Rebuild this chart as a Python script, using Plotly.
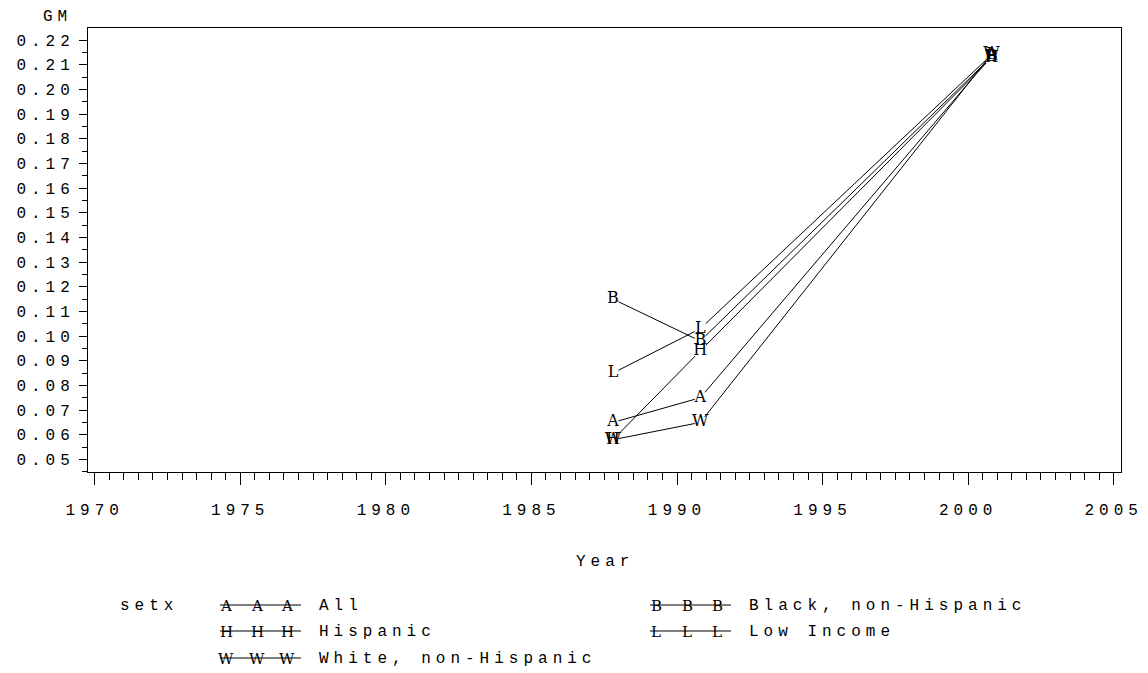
import plotly.graph_objects as go

# ---------------- data ----------------
years = [1987.8, 1990.8, 2000.8]
series_names = ["All", "Black, non-Hispanic", "Hispanic", "Low Income", "White, non-Hispanic"]
series_symbols = ["A", "B", "H", "L", "W"]
gm_all = [0.065, 0.075, 0.2135]
gm_black = [0.115, 0.098, 0.2132]
gm_hispanic = [0.058, 0.094, 0.2128]
gm_low_income = [0.085, 0.103, 0.2140]
gm_white = [0.058, 0.065, 0.2143]
series_values = [gm_all, gm_black, gm_hispanic, gm_low_income, gm_white]

y_tick_values = [0.05, 0.06, 0.07, 0.08, 0.09, 0.10, 0.11, 0.12, 0.13, 0.14,
                 0.15, 0.16, 0.17, 0.18, 0.19, 0.20, 0.21, 0.22]
y_tick_labels = ["%.2f" % v for v in y_tick_values]
x_tick_values = [1970, 1975, 1980, 1985, 1990, 1995, 2000, 2005]
x_tick_labels = [str(v) for v in x_tick_values]

x_title = "Year"
y_title = "GM"
legend_title = "setx"

# ---------------- layout geometry ----------------
FIG_W, FIG_H = 1148, 673
M_L, M_R, M_T, M_B = 88, 27, 28, 201
PLOT_W = FIG_W - M_L - M_R
PLOT_H = FIG_H - M_T - M_B

TEXT_FONT = "Liberation Mono"
SYM_FONT = "DejaVu Serif"
LS = 5  # letter spacing in px


def sp(s, ls=LS):
    return '<span style="letter-spacing:%dpx">%s</span>' % (ls, s)


def px_x(px):
    return (px - M_L) / PLOT_W


def px_y(py):
    return (M_T + PLOT_H - py) / PLOT_H


fig = go.Figure()

# lines
for vals in series_values:
    fig.add_trace(go.Scatter(x=years, y=vals, mode="lines",
                             line=dict(color="black", width=1),
                             showlegend=False, hoverinfo="skip"))
# white knockouts so lines stop at the letters
for vals in series_values:
    fig.add_trace(go.Scatter(x=years, y=vals, mode="markers",
                             marker=dict(symbol="square", size=11, color="white",
                                         line=dict(width=0)),
                             showlegend=False, hoverinfo="skip"))
# letter symbols
for sym, vals in zip(series_symbols, series_values):
    fig.add_trace(go.Scatter(x=years, y=vals, mode="text",
                             text=[sym] * len(years), textposition="middle center",
                             textfont=dict(family=SYM_FONT, size=16, color="black"),
                             showlegend=False, hoverinfo="skip"))

tickfont = dict(family=TEXT_FONT, size=16, color="black")

fig.update_xaxes(
    range=[1969.77, 2005.25],
    tickmode="array", tickvals=x_tick_values, ticktext=[sp(t) for t in x_tick_labels],
    ticks="outside", ticklen=12, tickwidth=1, tickcolor="black",
    showline=True, linecolor="black", linewidth=1, mirror=True,
    showgrid=False, zeroline=False, tickfont=tickfont, ticklabelstandoff=11,
    automargin=False,
    minor=dict(tickmode="linear", tick0=1970, dtick=0.5, ticks="outside",
               ticklen=7, tickwidth=1, tickcolor="black", showgrid=False),
)
fig.update_yaxes(
    range=[0.0449, 0.2249],
    tickmode="array", tickvals=y_tick_values, ticktext=[sp(t) for t in y_tick_labels],
    ticks="outside", ticklen=8, tickwidth=1, tickcolor="black",
    showline=True, linecolor="black", linewidth=1, mirror=True,
    showgrid=False, zeroline=False, tickfont=tickfont, ticklabelstandoff=1,
    automargin=False,
    minor=dict(tickmode="linear", tick0=0.05, dtick=0.005, ticks="outside",
               ticklen=5, tickwidth=1, tickcolor="black", showgrid=False),
)

annotations = []
shapes = []
# axis titles
annotations.append(dict(text=sp(y_title), x=px_x(57), y=px_y(17), xref="paper", yref="paper",
                        xanchor="center", yanchor="middle", showarrow=False,
                        font=dict(family=TEXT_FONT, size=16, color="black")))
annotations.append(dict(text=sp(x_title), x=px_x(605), y=px_y(562), xref="paper", yref="paper",
                        xanchor="center", yanchor="middle", showarrow=False,
                        font=dict(family=TEXT_FONT, size=16, color="black")))
# legend title
annotations.append(dict(text=sp(legend_title), x=px_x(118), y=px_y(606), xref="paper", yref="paper",
                        xanchor="left", yanchor="middle", showarrow=False,
                        font=dict(family=TEXT_FONT, size=16, color="black")))

# legend entries: (column start px, row y px)
col_x = [220, 650]
row_y = [606, 632, 659]
legend_slots = [(0, 0), (1, 0), (0, 1), (1, 1), (0, 2)]
for (c, r), sym, name in zip(legend_slots, series_symbols, series_names):
    x0 = col_x[c]
    y0 = row_y[r]
    shapes.append(dict(type="line", xref="paper", yref="paper",
                       x0=px_x(x0), x1=px_x(x0 + 81), y0=px_y(y0 - 1), y1=px_y(y0 - 1),
                       line=dict(color="black", width=1)))
    for off in (6, 37, 67):
        annotations.append(dict(text=sym, x=px_x(x0 + off), y=px_y(y0), xref="paper", yref="paper",
                                xanchor="center", yanchor="middle", showarrow=False,
                                font=dict(family=SYM_FONT, size=15, color="black")))
    annotations.append(dict(text=sp(name), x=px_x(x0 + 97), y=px_y(y0), xref="paper", yref="paper",
                            xanchor="left", yanchor="middle", showarrow=False,
                            font=dict(family=TEXT_FONT, size=16, color="black")))

fig.update_layout(
    width=FIG_W, height=FIG_H,
    margin=dict(l=M_L, r=M_R, t=M_T, b=M_B, pad=0),
    paper_bgcolor="white", plot_bgcolor="white",
    annotations=annotations, shapes=shapes,
    showlegend=False,
)

fig.write_html("out.html", config={"displayModeBar": False},
               post_script="document.body.style.margin='0';document.body.style.overflow='hidden';")
